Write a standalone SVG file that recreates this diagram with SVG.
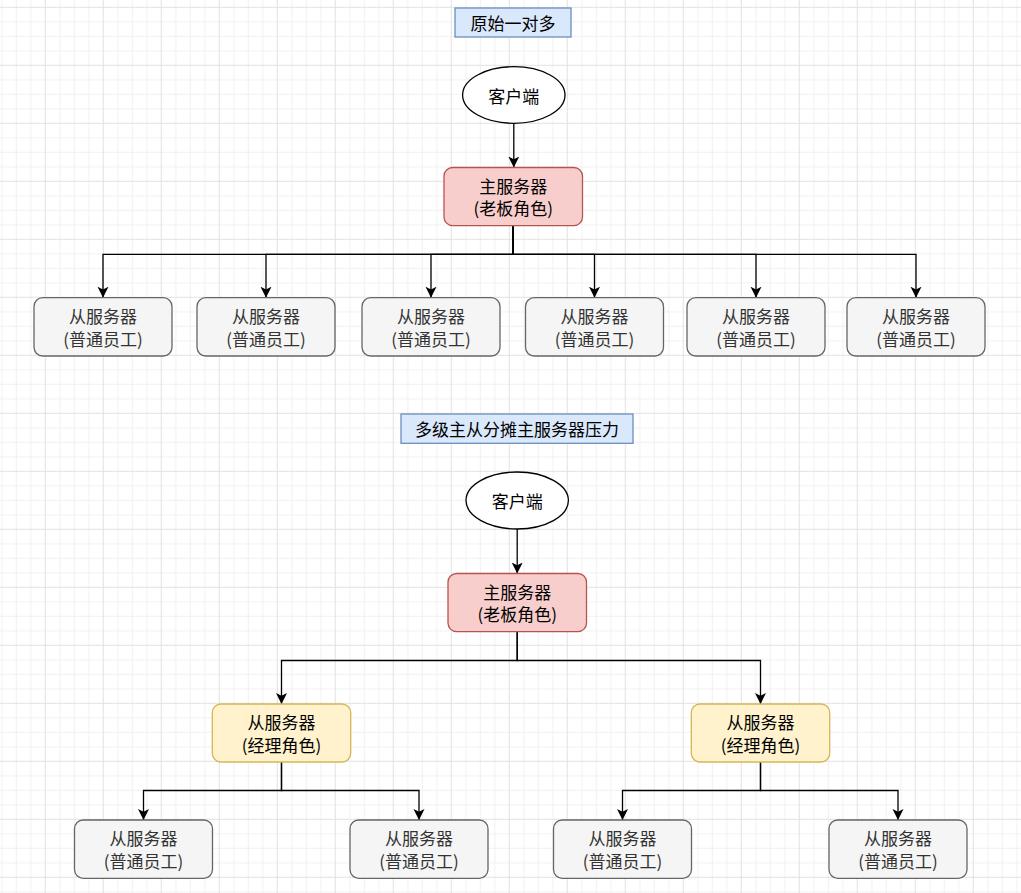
<svg xmlns="http://www.w3.org/2000/svg" width="1021" height="893" viewBox="0 0 1021 893">
<defs>
<pattern id="grid" width="58" height="58" patternUnits="userSpaceOnUse" x="44.8" y="6.8">
<path d="M15 0V58M29.5 0V58M44 0V58M0 15H58M0 29.5H58M0 44H58" stroke="#f0f0f0" stroke-width="1" fill="none"/>
<path d="M0.5 0V58M0 0.5H58" stroke="#e2e2e2" stroke-width="1" fill="none"/>
</pattern>
<marker id="arr" markerUnits="userSpaceOnUse" markerWidth="12" markerHeight="12" refX="11" refY="5.5" orient="auto">
<path d="M0,0 L11,5.5 L0,11 L2.8,5.5 Z" fill="#000"/>
</marker>
</defs>
<style>
text{font-family:"Noto Sans CJK SC","Noto Sans",sans-serif;font-size:17px;text-anchor:middle;dominant-baseline:central;fill:#000}
.title rect{fill:#dae8fc;stroke:#6c8ebf;stroke-width:1.3}
.ell ellipse{fill:#fff;stroke:#000;stroke-width:1.3}
.boss rect{fill:#f8cecc;stroke:#b85450;stroke-width:1.3}
.mgr rect{fill:#fff2cc;stroke:#d6b656;stroke-width:1.3}
.emp rect{fill:#f5f5f5;stroke:#666;stroke-width:1.3}
.emp text{fill:#333}
.edge{fill:none;stroke:#000;stroke-width:1.3;marker-end:url(#arr)}
</style>
<rect width="1021" height="893" fill="#fff"/>
<rect width="1021" height="893" fill="url(#grid)"/>

<g id="connectors">
<path class="edge" d="M513.8 123.3V167.5"/>
<path class="edge" d="M513.2 225.7V254.3H103V297.7"/>
<path class="edge" d="M513.2 225.7V254.3H266V297.7"/>
<path class="edge" d="M513.2 225.7V254.3H431V297.7"/>
<path class="edge" d="M513.2 225.7V254.3H594.5V297.7"/>
<path class="edge" d="M513.2 225.7V254.3H756V297.7"/>
<path class="edge" d="M513.2 225.7V254.3H916V297.7"/>
<path class="edge" d="M517.2 529V573.5"/>
<path class="edge" d="M517.2 631.7V660.5H281.5V704"/>
<path class="edge" d="M517.2 631.7V660.5H760.5V704"/>
<path class="edge" d="M281.5 762V790.5H143.5V820"/>
<path class="edge" d="M281.5 762V790.5H419V820"/>
<path class="edge" d="M760.5 762V790.5H622.5V820"/>
<path class="edge" d="M760.5 762V790.5H898V820"/>
</g>

<g id="title1" class="title"><rect x="455" y="8" width="116" height="29"/><text x="513" y="22.5">原始一对多</text></g>
<g id="client1" class="ell"><ellipse cx="513.8" cy="95" rx="51.2" ry="28.3"/><text x="513.8" y="95">客户端</text></g>
<g id="master1" class="boss"><rect x="444" y="167.5" width="138.5" height="58.2" rx="8.7"/><text x="513.2" y="185.4">主服务器</text><text x="513.2" y="207.8">(老板角色)</text></g>

<g id="s1" class="emp"><rect x="34" y="297.7" width="138" height="58.3" rx="8.7"/><text x="103" y="315.6">从服务器</text><text x="103" y="338">(普通员工)</text></g>
<g id="s2" class="emp"><rect x="197" y="297.7" width="138" height="58.3" rx="8.7"/><text x="266" y="315.6">从服务器</text><text x="266" y="338">(普通员工)</text></g>
<g id="s3" class="emp"><rect x="362" y="297.7" width="138" height="58.3" rx="8.7"/><text x="431" y="315.6">从服务器</text><text x="431" y="338">(普通员工)</text></g>
<g id="s4" class="emp"><rect x="525.5" y="297.7" width="138" height="58.3" rx="8.7"/><text x="594.5" y="315.6">从服务器</text><text x="594.5" y="338">(普通员工)</text></g>
<g id="s5" class="emp"><rect x="687" y="297.7" width="138" height="58.3" rx="8.7"/><text x="756" y="315.6">从服务器</text><text x="756" y="338">(普通员工)</text></g>
<g id="s6" class="emp"><rect x="847" y="297.7" width="138" height="58.3" rx="8.7"/><text x="916" y="315.6">从服务器</text><text x="916" y="338">(普通员工)</text></g>

<g id="title2" class="title"><rect x="401" y="414" width="232" height="29.3"/><text x="517" y="428.7">多级主从分摊主服务器压力</text></g>
<g id="client2" class="ell"><ellipse cx="517.2" cy="500.5" rx="51.2" ry="28.5"/><text x="517.2" y="500.5">客户端</text></g>
<g id="master2" class="boss"><rect x="448" y="573.5" width="138.5" height="58.2" rx="8.7"/><text x="517.2" y="591.4">主服务器</text><text x="517.2" y="613.8">(老板角色)</text></g>

<g id="m1" class="mgr"><rect x="212.3" y="704" width="138.4" height="58" rx="8.7"/><text x="281.5" y="721.8">从服务器</text><text x="281.5" y="744.2">(经理角色)</text></g>
<g id="m2" class="mgr"><rect x="691.3" y="704" width="138.4" height="58" rx="8.7"/><text x="760.5" y="721.8">从服务器</text><text x="760.5" y="744.2">(经理角色)</text></g>

<g id="w1" class="emp"><rect x="74.5" y="820" width="138" height="58.3" rx="8.7"/><text x="143.5" y="837.9">从服务器</text><text x="143.5" y="860.3">(普通员工)</text></g>
<g id="w2" class="emp"><rect x="350" y="820" width="138" height="58.3" rx="8.7"/><text x="419" y="837.9">从服务器</text><text x="419" y="860.3">(普通员工)</text></g>
<g id="w3" class="emp"><rect x="553.5" y="820" width="138" height="58.3" rx="8.7"/><text x="622.5" y="837.9">从服务器</text><text x="622.5" y="860.3">(普通员工)</text></g>
<g id="w4" class="emp"><rect x="829" y="820" width="138" height="58.3" rx="8.7"/><text x="898" y="837.9">从服务器</text><text x="898" y="860.3">(普通员工)</text></g>
</svg>
